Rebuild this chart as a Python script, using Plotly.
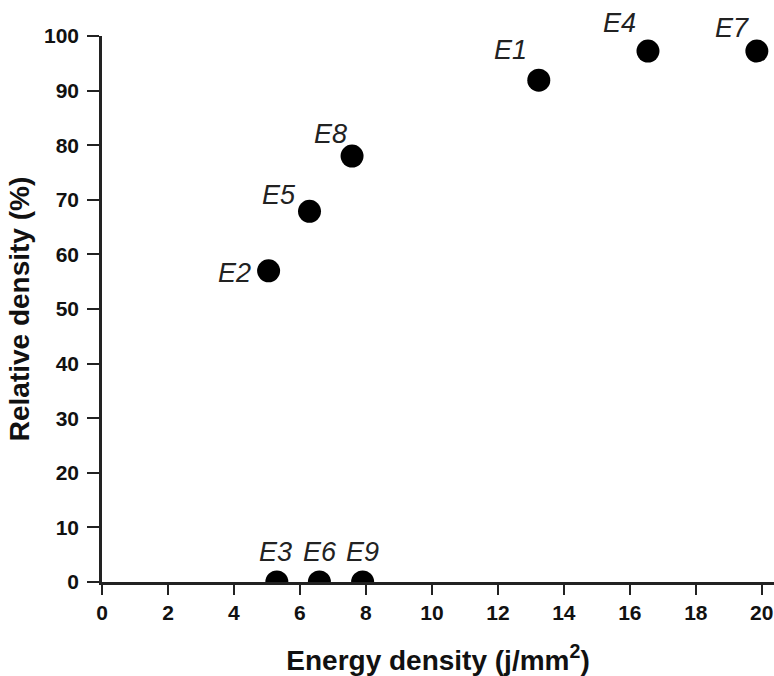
import plotly.graph_objects as go

# Data
labels = ["E1", "E2", "E3", "E4", "E5", "E6", "E7", "E8", "E9"]
energy_density = [13.24, 5.05, 5.30, 16.55, 6.29, 6.59, 19.85, 7.58, 7.90]
relative_density = [91.9, 57.0, 0, 97.25, 67.9, 0, 97.25, 78.0, 0]

x_ticks = list(range(0, 21, 2))
y_ticks = list(range(0, 101, 10))

# label offsets from each dot, in pixels (style only)
label_dx = [-28, -34, -1, -28, -31, 1, -25, -22, 0]
label_dy = [30, -2, 30, 28, 16, 30, 23, 22, 30]

MARKER_SIZE = 23
FONT = "Liberation Sans, Arial, Helvetica, sans-serif"

fig = go.Figure()
fig.add_trace(go.Scatter(
    x=energy_density, y=relative_density,
    mode="markers",
    marker=dict(size=MARKER_SIZE, color="black"),
    cliponaxis=True,
    showlegend=False,
))

for lab, xv, yv, dx, dy in zip(labels, energy_density, relative_density, label_dx, label_dy):
    fig.add_annotation(
        x=xv, y=yv, text=lab, showarrow=False,
        xshift=dx, yshift=dy, xanchor="center", yanchor="middle",
        font=dict(family=FONT, size=27, color="#222", style="italic"),
    )

axis_font = dict(family=FONT, size=21, color="#111", weight="bold")
title_font = dict(family=FONT, size=28, color="#111", weight="bold")

fig.update_layout(
    width=774, height=676,
    margin=dict(l=102, r=0, t=36, b=94),
    paper_bgcolor="white", plot_bgcolor="white",
    xaxis=dict(
        range=[0, 20.37], tickvals=x_ticks, ticktext=[str(v) for v in x_ticks],
        showgrid=False, zeroline=False, showline=True, linecolor="#222", linewidth=2.5,
        ticks="outside", ticklen=10, tickwidth=2, tickcolor="#222",
        tickfont=axis_font, automargin=False,
        title=dict(text="Energy density (j/mm<sup>2</sup>)", font=title_font, standoff=28),
    ),
    yaxis=dict(
        range=[0, 100], tickvals=y_ticks, ticktext=[str(v) for v in y_ticks],
        showgrid=False, zeroline=False, showline=True, linecolor="#222", linewidth=2.5,
        ticks="outside", ticklen=12, tickwidth=2, tickcolor="#222",
        tickfont=axis_font, automargin=False, ticklabelstandoff=4,
        title=dict(text="Relative density (%)", font=title_font, standoff=7),
    ),
)

fig.write_html("out.html", config={"displayModeBar": False},
               post_script="document.body.style.margin='0px';")
